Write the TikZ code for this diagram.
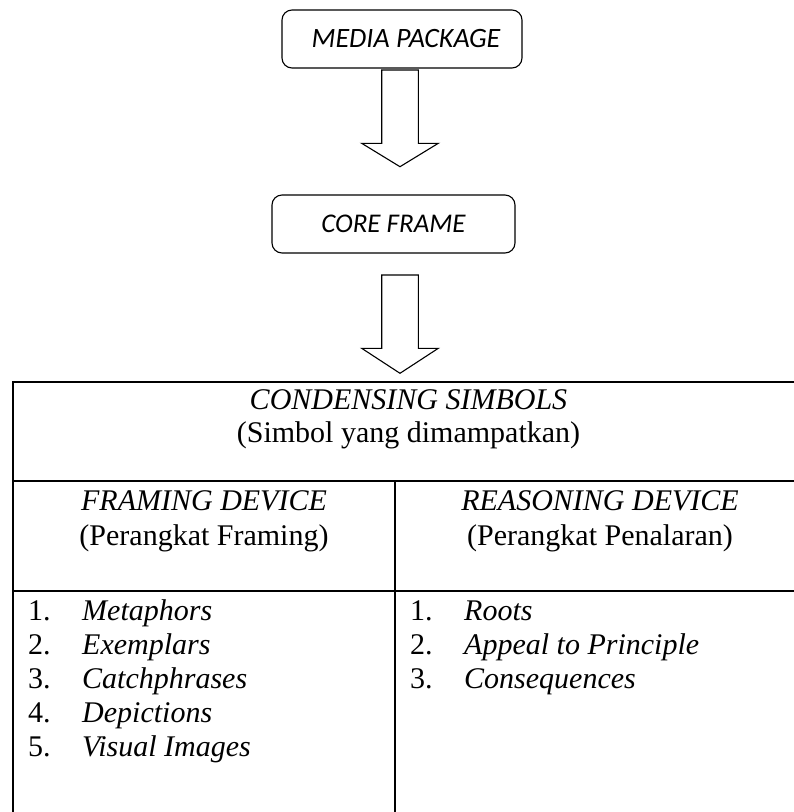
\documentclass[tikz,border=0pt]{standalone}
\usepackage{fontspec}
\setmainfont{Liberation Serif}
\newfontfamily\calib{Carlito}
\usetikzlibrary{calc}
\tikzset{
  rbox/.style={draw, rounded corners=10pt, line width=1.1pt, minimum height=58pt, inner sep=0pt,
    font=\calib\itshape\fontsize{27}{30}\selectfont},
  tline/.style={line width=2pt, line cap=rect},
  barrow/.style={draw, line width=1.1pt, line join=miter},
  hd/.style={anchor=base, inner sep=0pt, font=\fontsize{30}{34}\selectfont},
  num/.style={anchor=base west, inner sep=0pt, font=\fontsize{30}{34}\selectfont},
  item/.style={anchor=base west, inner sep=0pt, font=\fontsize{30}{34}\selectfont\itshape}
}
\begin{document}
\begin{tikzpicture}[x=1pt,y=1pt]
\useasboundingbox (0,0) rectangle (794,-812);
\clip (0,0) rectangle (794,-812);
\fill[white] (0,0) rectangle (794,-812);

% boxes
\node[rbox, minimum width=240pt, font=\calib\itshape\fontsize{28}{30}\selectfont] (mp) at (402,-39) {\hspace{8pt}MEDIA PACKAGE};
\node[rbox, minimum width=243pt] (cf) at (393.5,-224) {CORE FRAME};

% block arrows
\coordinate (a1t) at (400,-70);
\coordinate (a1p) at (400,-166.7);
\draw[barrow] ($(a1t)+(-18.3,0)$) -- ($(a1t)+(18.3,0)$) -- ($(a1t)+(18.3,-73.3)$)
  -- ($(a1t)+(38.3,-73.3)$) -- (a1p) -- ($(a1t)+(-38.3,-73.3)$) -- ($(a1t)+(-18.3,-73.3)$) -- cycle;
\coordinate (a2t) at (400,-275);
\coordinate (a2p) at (400,-373.3);
\draw[barrow] ($(a2t)+(-18.3,0)$) -- ($(a2t)+(18.3,0)$) -- ($(a2t)+(18.3,-73.3)$)
  -- ($(a2t)+(38.3,-73.3)$) -- (a2p) -- ($(a2t)+(-38.3,-73.3)$) -- ($(a2t)+(-18.3,-73.3)$) -- cycle;

% table
\draw[tline] (13,-830) -- (13,-382) -- (804,-382) -- (804,-830);
\draw[tline] (13,-481) -- (804,-481);
\draw[tline] (13,-591) -- (804,-591);
\draw[tline] (395,-481) -- (395,-830);

% header texts
\node[hd] (cs) at (408.5,-409) {\itshape CONDENSING SIMBOLS};
\node[hd] (csi) at (408.5,-442) {(Simbol yang dimampatkan)};
\node[hd] (fd) at (204,-510) {\itshape FRAMING DEVICE};
\node[hd] (fdi) at (204,-545) {(Perangkat Framing)};
\node[hd] (rd) at (600,-510) {\itshape REASONING DEVICE};
\node[hd] (rdi) at (600,-545) {(Perangkat Penalaran)};

% left list
\node[num] (ln1) at (28,-620) {1.};
\node[item] (li1) at (82,-620) {Metaphors};
\node[num] (ln2) at (28,-654) {2.};
\node[item] (li2) at (82,-654) {Exemplars};
\node[num] (ln3) at (28,-688) {3.};
\node[item] (li3) at (82,-688) {Catchphrases};
\node[num] (ln4) at (28,-722) {4.};
\node[item] (li4) at (82,-722) {Depictions};
\node[num] (ln5) at (28,-756) {5.};
\node[item] (li5) at (82,-756) {Visual Images};

% right list
\node[num] (rn1) at (410,-620) {1.};
\node[item] (ri1) at (464,-620) {Roots};
\node[num] (rn2) at (410,-654) {2.};
\node[item] (ri2) at (464,-654) {Appeal to Principle};
\node[num] (rn3) at (410,-688) {3.};
\node[item] (ri3) at (464,-688) {Consequences};
\end{tikzpicture}
\end{document}
